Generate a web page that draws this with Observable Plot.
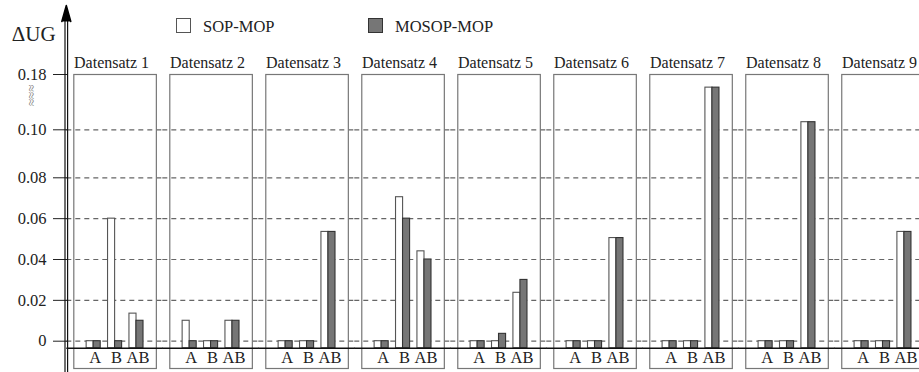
<!DOCTYPE html>
<html><head><meta charset="utf-8">
<script src="https://cdn.jsdelivr.net/npm/d3@7"></script>
<script src="https://cdn.jsdelivr.net/npm/@observablehq/plot@0.6"></script>
<style>
body{margin:0;background:#fff;font-family:"Liberation Serif",serif;color:#222;}
#wrap{position:relative;width:919px;height:372px;overflow:hidden;}
.sw{position:absolute;width:14px;height:14px;box-sizing:border-box;}
.lt{position:absolute;font-size:16.5px;line-height:1;white-space:nowrap;}
</style></head><body>
<div id="wrap"><div id="chart"></div></div>
<script>
const sets = [1, 2, 3, 4, 5, 6, 7, 8, 9];
const categories = ["A", "B", "AB"];
const seriesNames = ["SOP-MOP", "MOSOP-MOP"];
// values per Datensatz, order A, B, AB
const sopMop = [[0, 0.060, 0.0135], [0.010, 0, 0.010], [0, 0, 0.0535], [0, 0.0705, 0.044], [0, 0, 0.0237], [0, 0, 0.0505], [0, 0, 0.161], [0, 0, 0.111], [0, 0, 0.0535]];
const mosopMop = [[0, 0, 0.010], [0, 0, 0.010], [0, 0, 0.0535], [0, 0.060, 0.040], [0, 0.0036, 0.030], [0, 0, 0.0505], [0, 0, 0.161], [0, 0, 0.111], [0, 0, 0.0535]];
const yTicks = [0, 0.02, 0.04, 0.06, 0.08, 0.10, 0.18];
const gridTicks = [0, 0.02, 0.04, 0.06, 0.08, 0.10];
const yBase = -0.0035;
const yLabel = "ΔUG";

// broken value axis: piecewise mapping of values onto an evenly spaced display axis
const yBreaks = [yBase, 0, 0.08, 0.10, 0.18];
const yUnits = [0, 7, 170.4, 218.4, 273.7];
const yWarp = d3.scaleLinear().domain(yBreaks).range(yUnits);

const rows = [];
sets.forEach((s, i) => categories.forEach((c, j) => rows.push({set: s, cat: c, sop: sopMop[i][j], mosop: mosopMop[i][j]})));

const chart = Plot.plot({
  width: 919, height: 372,
  marginTop: 74, marginBottom: 4, marginLeft: 73.3, marginRight: -4.8,
  style: {fontFamily: "Liberation Serif", fontSize: "16px", color: "#222", background: "#fff"},
  fx: {domain: sets, paddingInner: 0.14, paddingOuter: 0, round: false, label: null},
  x: {domain: categories, paddingInner: 0.343, paddingOuter: 0.6, round: false, axis: null},
  y: {transform: v => yWarp(v), domain: [yUnits[0], yUnits[4]], range: [347.7, 74], axis: null},
  marks: [
    Plot.ruleY(gridTicks, {insetLeft: -7, insetRight: -7, stroke: "#666", strokeDasharray: "5,4", strokeWidth: 1.2}),
    Plot.frame({stroke: "#777", strokeWidth: 1.2}),
    Plot.barY(rows, {fx: "set", x: "cat", y1: yBase, y2: "sop", insetRight: 7, fill: "white", stroke: "#555", strokeWidth: 1.1}),
    Plot.barY(rows, {fx: "set", x: "cat", y1: yBase, y2: "mosop", insetLeft: 7, fill: "#767676", stroke: "#333", strokeWidth: 1.1}),
    Plot.ruleY([yBase], {insetLeft: -7, insetRight: -7, stroke: "#111", strokeWidth: 1.4}),
    Plot.text(categories, {x: d => d, frameAnchor: "bottom", lineAnchor: "middle", dy: -11, dx: 1.5, fontSize: 16.5, fill: "#222"}),
    Plot.axisFx({anchor: "top", tickSize: 0, tickPadding: 7, dx: -3.5, tickFormat: d => "Datensatz " + d, label: null, fontSize: 16, fill: "#222"}),
    Plot.axisY(yTicks, {anchor: "left", tickSize: 14, tickPadding: 7, dx: -6.3, tickFormat: d => d === 0 ? "0" : d.toFixed(2), fontSize: 16.5, label: null, stroke: "#222", fill: "#222"}),
    Plot.frame({facet: "super", anchor: "left", dx: -8.8, insetTop: -54, insetBottom: -4, stroke: "#111", strokeWidth: 1.2}),
    Plot.frame({facet: "super", anchor: "left", dx: -6.2, insetTop: -54, insetBottom: -4, stroke: "#111", strokeWidth: 1.2}),
    Plot.vector([0], {facet: "super", frameAnchor: "top-left", dx: -7.5, dy: -53, length: 16, r: 4.5, shape: "spike", anchor: "start", fill: "black", stroke: "black"}),
    Plot.text(["≈≈≈"], {facet: "super", text: d => d, frameAnchor: "top-left", lineAnchor: "middle", textAnchor: "middle", dx: -42.3, dy: 21, rotate: 90, fontSize: 13, fill: "#777"}),
    Plot.text([yLabel], {facet: "super", text: d => d, frameAnchor: "top-left", dx: -62, dy: -48, fontSize: 21, fill: "#222", textAnchor: "start"})
  ]
});
const wrap = document.getElementById("wrap");
document.getElementById("chart").appendChild(chart);

// legend
const legendFills = ["#fff", "#767676"];
const legendStrokes = ["#555", "#333"];
const legendX = [176, 368];
seriesNames.forEach((name, i) => {
  const sw = document.createElement("div");
  sw.className = "sw";
  sw.style.left = legendX[i] + "px";
  sw.style.top = "18px";
  sw.style.width = "15px";
  sw.style.height = "15px";
  sw.style.background = legendFills[i];
  sw.style.border = "1.3px solid " + legendStrokes[i];
  wrap.appendChild(sw);
  const t = document.createElement("div");
  t.className = "lt";
  t.style.left = (legendX[i] + 27) + "px";
  t.style.top = "19px";
  t.textContent = name;
  wrap.appendChild(t);
});
</script>
</body></html>
